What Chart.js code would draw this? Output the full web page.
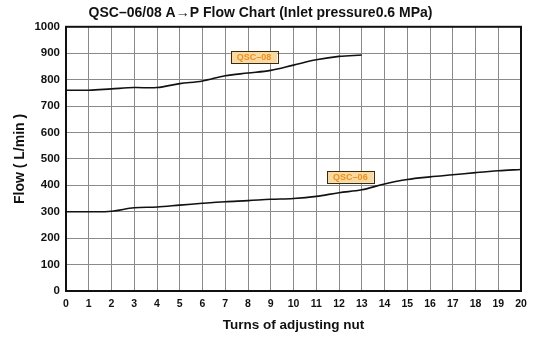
<!DOCTYPE html>
<html>
<head>
<meta charset="utf-8">
<script src="https://cdn.jsdelivr.net/npm/chart.js@4/dist/chart.umd.min.js"></script>
<style>
  html, body { margin: 0; padding: 0; background: #fff; }
  #wrap { width: 534px; height: 340px; position: relative; }
</style>
</head>
<body>
<div id="wrap"><canvas id="c" width="534" height="340"></canvas></div>
<script>
// ---- data ----
const turns = [0,1,2,3,4,5,6,7,8,9,10,11,12,13,14,15,16,17,18,19,20];
const qsc08 = [760,760,765,770,770,785,795,815,825,835,855,875,888,893];
const qsc06 = [300,300,302,315,318,325,332,338,342,347,350,358,372,383,405,422,432,440,448,455,460];
const labelNames = ["QSC\u201308", "QSC\u201306"];
const labelX = [8.26, 12.5];
const labelY = [886, 432];
const titleText = "QSC\u201306/08 A\u2192P Flow Chart (Inlet pressure0.6 MPa)";
const xTitle = "Turns of adjusting nut";
const yTitle = "Flow ( L/min )";

const FONT = "'Liberation Sans', Arial, sans-serif";

const frame = {
  id: 'frame',
  afterDatasetsDraw(chart) {
    const {ctx, chartArea: a} = chart;
    ctx.save();
    ctx.strokeStyle = '#111';
    ctx.lineWidth = 2;
    ctx.strokeRect(a.left, a.top, a.right - a.left, a.bottom - a.top);
    ctx.restore();
  }
};

const tags = {
  id: 'tags',
  afterDatasetsDraw(chart) {
    const {ctx, scales} = chart;
    ctx.save();
    ctx.font = "bold 9px " + FONT;
    ctx.textAlign = 'center';
    ctx.textBaseline = 'middle';
    for (let i = 0; i < labelNames.length; i++) {
      const x = scales.x.getPixelForValue(labelX[i]);
      const y = scales.y.getPixelForValue(labelY[i]);
      const w = ctx.measureText(labelNames[i]).width + 12;
      const h = 12;
      ctx.fillStyle = '#f9d9a2';
      ctx.fillRect(x - w/2, y - h/2, w, h);
      ctx.strokeStyle = '#3a2a10';
      ctx.lineWidth = 1;
      ctx.strokeRect(Math.round(x - w/2) + 0.5, Math.round(y - h/2) + 0.5, Math.round(w), h);
      ctx.fillStyle = '#ee8f1c';
      ctx.fillText(labelNames[i], x, y + 0.5);
    }
    ctx.restore();
  }
};

new Chart(document.getElementById('c'), {
  type: 'line',
  data: {
    datasets: [
      { label: 'QSC-08', data: qsc08.map((v, i) => ({x: turns[i], y: v})),
        borderColor: '#111', borderWidth: 1.6, pointRadius: 0, tension: 0.35, fill: false },
      { label: 'QSC-06', data: qsc06.map((v, i) => ({x: turns[i], y: v})),
        borderColor: '#111', borderWidth: 1.6, pointRadius: 0, tension: 0.35, fill: false }
    ]
  },
  options: {
    responsive: false,
    animation: false,
    devicePixelRatio: 1,
    layout: { padding: { left: 0, right: 13, top: 0, bottom: 0 } },
    plugins: {
      legend: { display: false },
      tooltip: { enabled: false },
      title: {
        display: true, text: titleText, color: '#111',
        font: { family: FONT, size: 14, weight: 'bold' },
        padding: { top: 5, bottom: 5 }
      }
    },
    scales: {
      x: {
        type: 'linear', min: 0, max: 20,
        ticks: { stepSize: 1, color: '#111', padding: 7,
                 font: { family: FONT, size: 10.5, weight: 'bold' } },
        grid: { color: '#8a8a8a', lineWidth: 1, drawTicks: false },
        border: { display: false },
        title: { display: true, text: xTitle, color: '#111',
                 font: { family: FONT, size: 13.5, weight: 'bold' },
                 padding: { top: 0, bottom: 7 } },
        afterFit(s) { s.height = 49; }
      },
      y: {
        type: 'linear', min: 0, max: 1000,
        ticks: { stepSize: 100, color: '#111', padding: 6,
                 font: { family: FONT, size: 11.5, weight: 'bold' },
                 callback: (v) => String(v) },
        grid: { color: '#8a8a8a', lineWidth: 1, drawTicks: false },
        border: { display: false },
        title: { display: true, text: yTitle, color: '#111',
                 font: { family: FONT, size: 14, weight: 'bold' },
                 padding: { top: 12, bottom: 0 } },
        afterFit(s) { s.width = 66; }
      }
    }
  },
  plugins: [frame, tags]
});
</script>
</body>
</html>
